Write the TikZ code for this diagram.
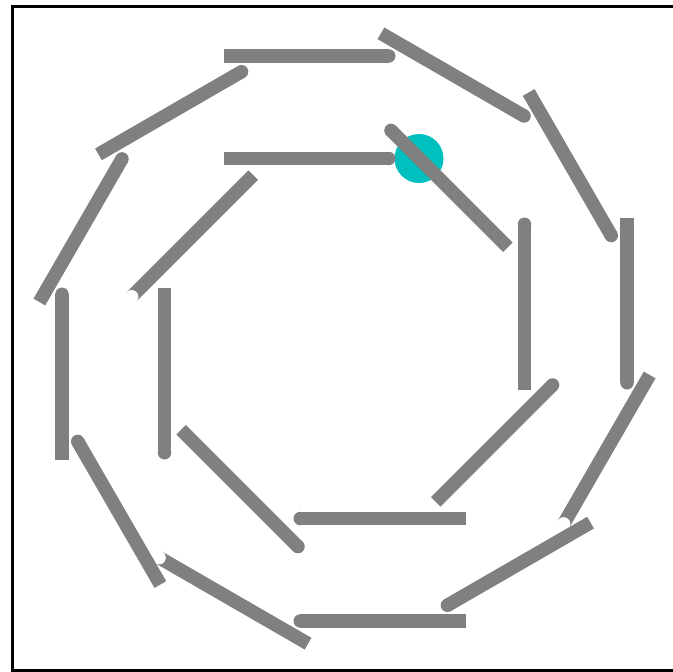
\documentclass[tikz,border=0pt]{standalone}
\definecolor{bargray}{HTML}{808080}
\definecolor{dotcyan}{HTML}{00BFBF}
\tikzset{bar/.style={draw=bargray,line width=13.5pt,line cap=butt},
  frameline/.style={draw=black,line width=3pt}}
% #1 normal angle, #2 apothem, #3 trailing end type, #4 leading end type (0 butt, 1 round, 2 notch)
\newcommand\ringseg[4]{%
 \pgfmathsetmacro\tx{-sin(#1)}%
 \pgfmathsetmacro\ty{-cos(#1)}%
 \pgfmathsetmacro\mx{344.5+#2*cos(#1)+35*\tx}%
 \pgfmathsetmacro\my{338.5-#2*sin(#1)+35*\ty}%
 \pgfmathsetmacro\ax{\mx-86*\tx}%
 \pgfmathsetmacro\ay{\my-86*\ty}%
 \pgfmathsetmacro\bx{\mx+86*\tx}%
 \pgfmathsetmacro\by{\my+86*\ty}%
 \pgfmathsetmacro\ai{(#3==1)*6.75}%
 \pgfmathsetmacro\bi{(#4==1)*6.75}%
 \pgfmathsetmacro\aax{\ax+\ai*\tx}%
 \pgfmathsetmacro\aay{\ay+\ai*\ty}%
 \pgfmathsetmacro\bbx{\bx-\bi*\tx}%
 \pgfmathsetmacro\bby{\by-\bi*\ty}%
 \coordinate (sa) at (\aax,\aay);
 \coordinate (sb) at (\bbx,\bby);
 \draw[bar] (sa) -- (sb);
 \ifnum#3=1 \fill[bargray] (sa) circle[radius=6.75pt];\fi
 \ifnum#4=1 \fill[bargray] (sb) circle[radius=6.75pt];\fi
 \ifnum#3=2 \fill[white] (sa) circle[radius=6.75pt];\fi
 \ifnum#4=2 \fill[white] (sb) circle[radius=6.75pt];\fi
}
\begin{document}
\begin{tikzpicture}[x=1pt,y=-1pt]
\useasboundingbox (0,0) rectangle (673,672);
\begin{scope}
\clip (0,0) rectangle (673,672);
\fill[white] (0,0) rectangle (673,672);
\draw[frameline] (12.5,6.7) rectangle (690,670.5);
\fill[dotcyan] (419,158.5) circle[radius=24.5pt];
% outer ring (12 sides)
\ringseg{90}{282.5}{1}{0}
\ringseg{60}{282.5}{1}{0}
\ringseg{30}{282.5}{1}{0}
\ringseg{0}{282.5}{1}{0}
\ringseg{-30}{282.5}{2}{0}
\ringseg{-60}{282.5}{1}{0}
\ringseg{-90}{282.5}{1}{0}
\ringseg{-120}{282.5}{2}{0}
\ringseg{-150}{282.5}{1}{0}
\ringseg{180}{282.5}{1}{0}
\ringseg{150}{282.5}{1}{0}
\ringseg{120}{282.5}{1}{0}
% inner ring (8 sides)
\ringseg{90}{180}{1}{0}
\ringseg{45}{180}{0}{1}
\ringseg{0}{180}{0}{1}
\ringseg{-45}{180}{0}{1}
\ringseg{-90}{180}{1}{0}
\ringseg{-135}{180}{0}{1}
\ringseg{180}{180}{0}{1}
\ringseg{135}{180}{0}{2}
\end{scope}
\end{tikzpicture}
\end{document}
